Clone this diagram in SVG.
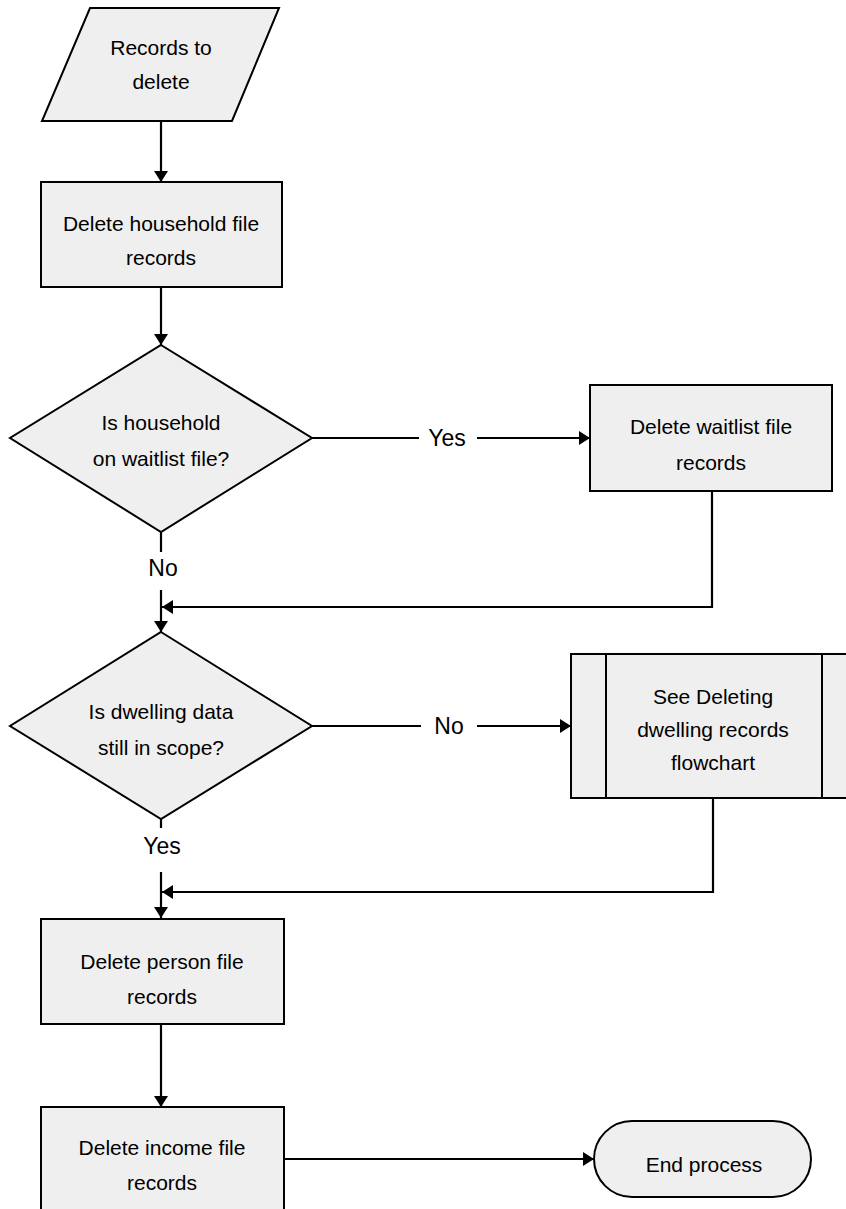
<svg xmlns="http://www.w3.org/2000/svg" width="846" height="1209" viewBox="0 0 846 1209">
<style>
.shape{fill:#eeefee;stroke:#000;stroke-width:2}
.t{font-family:"Liberation Sans",Arial,sans-serif;font-size:21px;fill:#000;text-anchor:middle}
.lbl{font-family:"Liberation Sans",Arial,sans-serif;font-size:23px;fill:#000;text-anchor:middle}
.c{fill:none;stroke:#000;stroke-width:2.2}
</style>
<defs>
<marker id="ah" markerUnits="userSpaceOnUse" markerWidth="11" markerHeight="14" viewBox="0 0 11 14" refX="11" refY="7" orient="auto">
<path d="M0,0 L11,7 L0,14 z" fill="#000"/>
</marker>
</defs>
<rect width="846" height="1209" fill="#fff"/>
<g id="connectors">
<path class="c" d="M161,122 V182" marker-end="url(#ah)"/>
<path class="c" d="M161,287 V345" marker-end="url(#ah)"/>
<path class="c" d="M312,438 H419"/>
<path class="c" d="M477,438 H590" marker-end="url(#ah)"/>
<path class="c" d="M712,491 V607 H162" marker-end="url(#ah)"/>
<path class="c" d="M161,532 V552"/>
<path class="c" d="M161,590 V632" marker-end="url(#ah)"/>
<path class="c" d="M312,726 H421"/>
<path class="c" d="M477,726 H571" marker-end="url(#ah)"/>
<path class="c" d="M713,798 V892 H162" marker-end="url(#ah)"/>
<path class="c" d="M161,819 V828"/>
<path class="c" d="M161,872 V918" marker-end="url(#ah)"/>
<path class="c" d="M161,1024 V1107" marker-end="url(#ah)"/>
<path class="c" d="M285,1159 H594" marker-end="url(#ah)"/>
<text class="lbl" x="447" y="446">Yes</text>
<text class="lbl" x="163" y="576">No</text>
<text class="lbl" x="449" y="734">No</text>
<text class="lbl" x="162" y="854">Yes</text>
</g>
<g id="records-to-delete">
<polygon class="shape" points="90,8 279,8 232,121 42,121"/>
<text class="t" x="161" y="55">Records to</text>
<text class="t" x="161" y="89">delete</text>
</g>
<g id="delete-household">
<rect class="shape" x="41" y="182" width="241" height="105"/>
<text class="t" x="161" y="231">Delete household file</text>
<text class="t" x="161" y="265">records</text>
</g>
<g id="household-on-waitlist">
<polygon class="shape" points="161,345 312,438 161,532 10,438"/>
<text class="t" x="161" y="430">Is household</text>
<text class="t" x="161" y="466">on waitlist file?</text>
</g>
<g id="delete-waitlist">
<rect class="shape" x="590" y="385" width="242" height="106"/>
<text class="t" x="711" y="434">Delete waitlist file</text>
<text class="t" x="711" y="470">records</text>
</g>
<g id="dwelling-in-scope">
<polygon class="shape" points="161,632 312,726 161,819 10,726"/>
<text class="t" x="161" y="719">Is dwelling data</text>
<text class="t" x="161" y="755">still in scope?</text>
</g>
<g id="see-deleting-dwelling">
<rect class="shape" x="571" y="654" width="280" height="144"/>
<line class="shape" x1="606" y1="654" x2="606" y2="798"/>
<line class="shape" x1="822" y1="654" x2="822" y2="798"/>
<text class="t" x="713" y="704">See Deleting</text>
<text class="t" x="713" y="737">dwelling records</text>
<text class="t" x="713" y="770">flowchart</text>
</g>
<g id="delete-person">
<rect class="shape" x="41" y="919" width="243" height="105"/>
<text class="t" x="162" y="969">Delete person file</text>
<text class="t" x="162" y="1004">records</text>
</g>
<g id="delete-income">
<rect class="shape" x="41" y="1107" width="243" height="130"/>
<text class="t" x="162" y="1155">Delete income file</text>
<text class="t" x="162" y="1190">records</text>
</g>
<g id="end-process">
<rect class="shape" x="594" y="1121" width="217" height="76" rx="38" ry="38"/>
<text class="t" x="704" y="1172">End process</text>
</g>
</svg>
